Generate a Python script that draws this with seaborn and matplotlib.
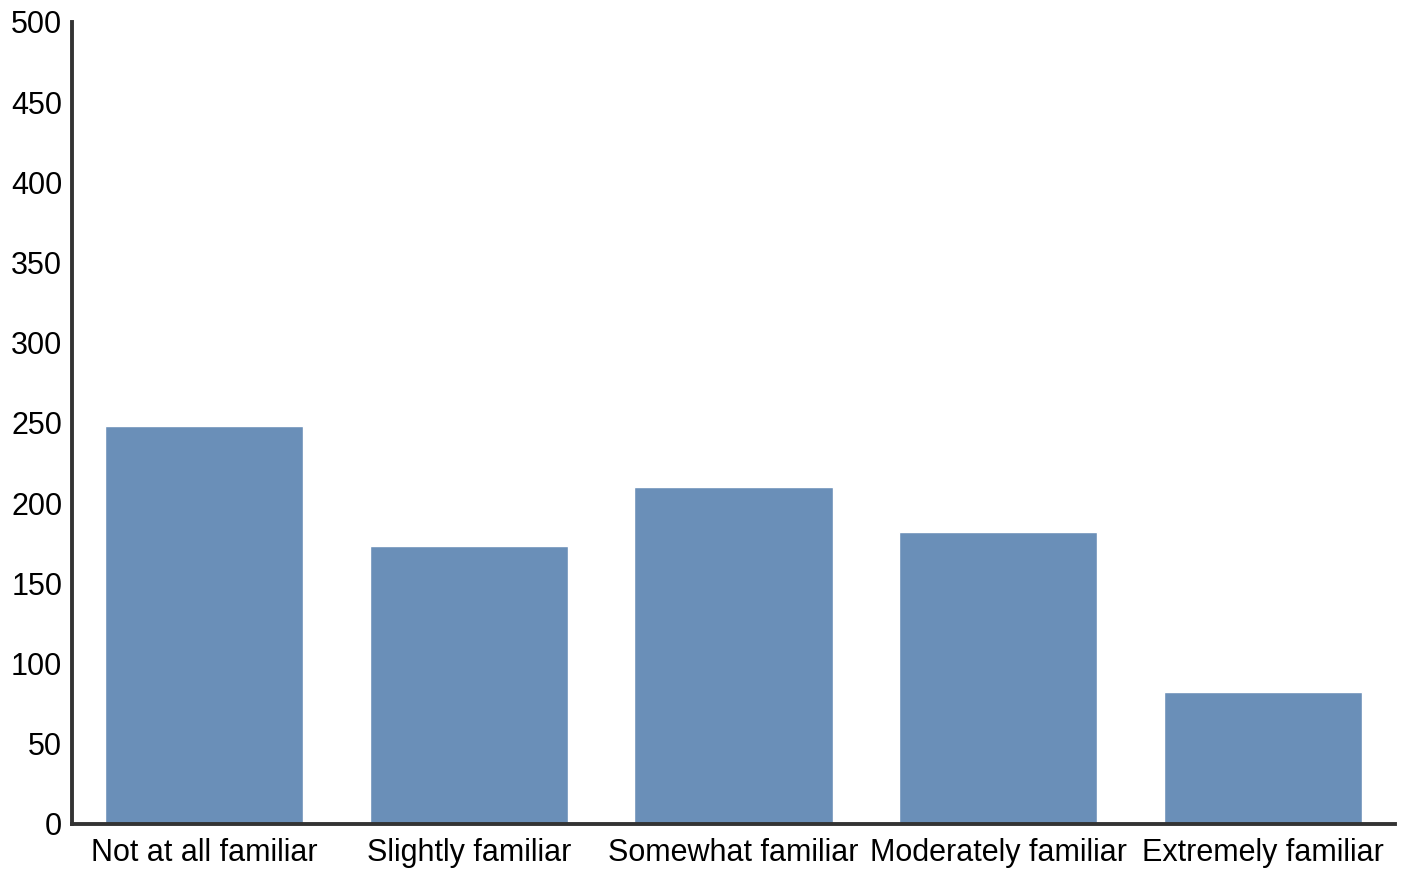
import matplotlib
matplotlib.use("Agg")
import matplotlib.pyplot as plt
import seaborn as sns
import pandas as pd

# данные
categories = ["Not at all familiar", "Slightly familiar", "Somewhat familiar",
              "Moderately familiar", "Extremely familiar"]
counts = [248, 173, 210, 182, 82]

df = pd.DataFrame({"category": categories, "count": counts})

sns.set_theme(style="white")
plt.rcParams['font.family'] = ['Liberation Sans', 'DejaVu Sans']

fig = plt.figure(figsize=(14.08, 8.69), dpi=100)
ax = fig.add_axes([0.0511, 0.0518, 0.9397, 0.9229])

sns.barplot(data=df, x="category", y="count", color="#6a8fb8", saturation=1,
            width=0.75, ax=ax)

ax.set_xlim(-0.5, 4.5)
ax.set_ylim(0, 500)
ax.set_yticks(range(0, 501, 50))
ax.set_xlabel("")
ax.set_ylabel("")
sns.despine(ax=ax)
for side in ["left", "bottom"]:
    ax.spines[side].set_linewidth(2.8)
    ax.spines[side].set_color("#333333")
ax.tick_params(axis="both", length=5, width=0.8, color="#888888",
               labelsize=22, labelcolor="black", pad=2, direction="out")
ax.tick_params(axis="x", pad=5)

fig.savefig("out.png", dpi=100)
